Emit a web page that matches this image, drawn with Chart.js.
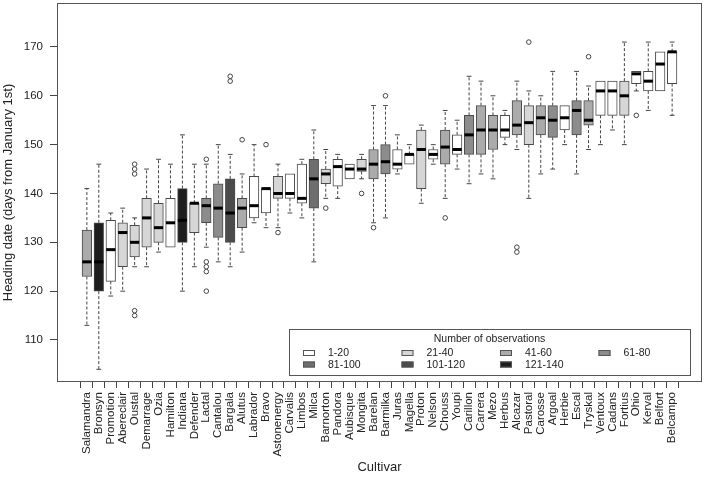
<!DOCTYPE html>
<html>
<head>
<meta charset="utf-8">
<script src="https://cdn.jsdelivr.net/npm/chart.js@4.4.1/dist/chart.umd.min.js"></script>
<style>
  html, body { margin: 0; padding: 0; background: #fff; }
  #wrap { width: 708px; height: 484px; }
</style>
</head>
<body>
<div id="wrap"><canvas id="boxChart"></canvas></div>
<script>
// one entry per cultivar, in plotting order
const cultivars = ['Salamandra', 'Bronsyn', 'Promotion', 'Abereclair', 'Oustal', 'Demarrage', 'Ozia', 'Hamilton',
    'Indiana', 'Defender', 'Lactal', 'Cantalou', 'Bargala', 'Alutus', 'Labrador', 'Bravo', 'Astonenergy',
    'Carvalis', 'Limbos', 'Milca', 'Barnorton', 'Pandora', 'Aubisque', 'Mongita', 'Barelan', 'Barmilka',
    'Juras', 'Magella', 'Proton', 'Nelson', 'Chouss', 'Youpi', 'Carillon', 'Carrera', 'Mezo', 'Herbus',
    'Alcazar', 'Pastoral', 'Carosse', 'Argoal', 'Herbie', 'Escal', 'Tryskal', 'Ventoux', 'Cadans', 'Fortius',
    'Ohio', 'Kerval', 'Belfort', 'Belcampo'];

// number-of-observations class (index into classLabels)
const obsClass = [2, 6, 0, 1, 1, 1, 1, 0, 6, 1, 3, 3, 5, 2, 0, 0, 1, 0, 0, 4, 1, 0, 0, 1, 2, 3,
    0, 0, 1, 0, 2, 0, 3, 2, 2, 0, 2, 1, 2, 3, 0, 3, 2, 0, 0, 1, 0, 0, 0, 0];

const classLabels = ['1-20', '21-40', '41-60', '61-80', '81-100', '101-120', '121-140'];

const mins = [113, 104, 119, 120, 125, 125, 128, 129, 120, 125, 129, 126, 125, 128, 134, 133, 133,
    136, 135, 126, 139, 139, 143, 143, 134, 135, 144, 146, 138, 146, 139, 145, 142, 144, 143, 150,
    149, 139, 144, 145, 150, 144, 149, 150, 153, 150, 161, 157, 161, 156];
const q1s = [123, 120, 122, 125, 127, 129, 130, 129, 130, 132, 134, 131, 130, 133, 135, 136, 139,
    139, 138, 137, 142, 141.5, 143, 144.5, 143, 144, 145, 146, 141, 147, 146, 148, 148, 148, 149, 151.5,
    152, 150, 152, 151.5, 153, 152, 154, 156, 156, 156, 162.5, 161, 161, 162.5];
const medians = [126, 126, 128.5, 132, 130, 135, 133, 134, 134.5, 138, 137.5, 137, 136, 137, 137.5, 141, 140,
    140, 139, 143, 144, 145.5, 145, 145, 146, 146.5, 146, 148, 149, 148, 149.5, 149, 152, 153, 153, 153,
    154, 154.5, 155.5, 155, 155.5, 157, 155, 161, 161, 160, 164.5, 163, 166.5, 169];
const q3s = [132.5, 134, 134.5, 134, 133.5, 139, 138, 139, 141, 138, 139, 142, 143, 139, 143.5, 141, 143.5,
    144, 146, 147, 145, 147, 146, 147, 149, 150, 149, 148, 153, 149, 153, 152, 156, 158, 156, 156,
    159, 158, 158, 158, 158, 159, 159, 163, 163, 163, 165, 165, 169, 169];
const maxs = [141, 146, 136, 137, 135, 145, 147, 146, 152, 146, 146, 150, 148, 144, 150, 141, 146,
    144, 147, 153, 149, 148, 146, 148, 158, 158, 152, 150, 154, 150, 157, 155, 164, 163, 160, 157,
    163, 161, 160, 165, 158, 165, 162, 163, 163, 171, 165, 171, 169, 171];

const outliers = [[], [], [], [], [144, 145, 146, 115, 116], [], [], [], [], [], [147, 126, 125, 124, 120],
    [], [163, 164], [151], [], [150], [132], [], [], [], [137], [], [], [140], [133], [160],
    [], [], [], [], [135], [], [], [], [], [], [128, 129], [171], [], [], [], [], [168], [], [], [],
    [156], [], [], []];

const yTicks = [110, 120, 130, 140, 150, 160, 170];

const classColors = ['#ffffff', '#d6d6d6', '#ababab', '#8c8c8c', '#6e6e6e', '#4b4b4b', '#1e1e1e'];
const lineColor = '#444';
const fontFamily = '"Liberation Sans", Arial, sans-serif';

// build the layers from the arrays above
const boxData = cultivars.map((c, i) => ({ x: i, y: [q1s[i], q3s[i]] }));
const medianData = cultivars.map((c, i) => ({ x: i, y: medians[i] }));

const whiskerData = [];
const capData = [];
cultivars.forEach((c, i) => {
    whiskerData.push({ x: i, y: q3s[i] }, { x: i, y: maxs[i] }, { x: i, y: null });
    whiskerData.push({ x: i, y: q1s[i] }, { x: i, y: mins[i] }, { x: i, y: null });
    if (maxs[i] > q3s[i]) capData.push({ x: i, y: maxs[i] });
    if (mins[i] < q1s[i]) capData.push({ x: i, y: mins[i] });
});

const outlierData = [];
outliers.forEach((list, i) => list.forEach(v => outlierData.push({ x: i, y: v })));

// frame around the plot region plus the "Number of observations" key
const framePlugin = {
    id: 'frame',
    afterDraw(chart) {
        const { ctx, chartArea: a } = chart;
        ctx.save();
        ctx.strokeStyle = '#555';
        ctx.lineWidth = 1;
        ctx.strokeRect(a.left + 0.5, a.top + 0.5, a.right - a.left - 1, a.bottom - a.top - 1);

        const bx = a.right - 413, by = a.bottom - 53, bw = 401, bh = 46;
        ctx.fillStyle = '#fff';
        ctx.fillRect(bx, by, bw, bh);
        ctx.strokeRect(bx + 0.5, by + 0.5, bw, bh);

        ctx.fillStyle = '#222';
        ctx.font = '10.5px ' + fontFamily;
        ctx.textBaseline = 'middle';
        ctx.textAlign = 'center';
        ctx.fillText('Number of observations', bx + bw / 2, by + 10);

        ctx.textAlign = 'left';
        classLabels.forEach((label, k) => {
            const col = k % 4, row = Math.floor(k / 4);
            const sx = bx + 14 + col * 98.5;
            const sy = by + 24 + row * 11.5;
            ctx.fillStyle = classColors[k];
            ctx.fillRect(sx, sy - 3, 12, 6);
            ctx.strokeStyle = '#555';
            ctx.strokeRect(sx + 0.5, sy - 3 + 0.5, 11, 5);
            ctx.fillStyle = '#222';
            ctx.fillText(label, sx + 25, sy + 0.5);
        });
        ctx.restore();
    }
};

Chart.defaults.font.family = fontFamily;
Chart.defaults.color = '#222';

const ctx = document.getElementById('boxChart').getContext('2d');
new Chart(ctx, {
    type: 'bar',
    data: {
        datasets: [
            {
                type: 'line',
                data: whiskerData,
                borderColor: lineColor,
                borderWidth: 1,
                borderDash: [3, 2],
                pointRadius: 0,
                spanGaps: false,
                order: 5
            },
            {
                type: 'bar',
                data: boxData,
                backgroundColor: obsClass.map(k => classColors[k]),
                borderColor: '#4a4a4a',
                borderWidth: 1,
                borderSkipped: false,
                barThickness: 9.6,
                order: 4
            },
            {
                type: 'scatter',
                data: capData,
                pointStyle: 'line',
                pointRadius: 2.4,
                borderColor: lineColor,
                borderWidth: 1,
                order: 3
            },
            {
                type: 'scatter',
                data: medianData,
                pointStyle: 'line',
                pointRadius: 4.6,
                borderColor: '#000',
                borderWidth: 3,
                order: 2
            },
            {
                type: 'scatter',
                data: outlierData,
                pointStyle: 'circle',
                pointRadius: 2.3,
                backgroundColor: '#fff',
                borderColor: lineColor,
                borderWidth: 1,
                order: 1
            }
        ]
    },
    options: {
        responsive: true,
        maintainAspectRatio: false,
        animation: false,
        layout: { autoPadding: false, padding: { top: 3, right: 6, left: 0, bottom: 0 } },
        plugins: {
            legend: { display: false },
            tooltip: { enabled: false }
        },
        scales: {
            x: {
                type: 'linear',
                min: -2.5,
                max: 51.5,
                offset: false,
                grid: { drawOnChartArea: false, drawTicks: true, tickLength: 6, color: lineColor },
                border: { display: false },
                afterBuildTicks: (scale) => {
                    scale.ticks = cultivars.map((c, i) => ({ value: i }));
                },
                afterFit: (scale) => {
                    scale.height = 102;
                    scale.paddingLeft = 0;
                    scale.paddingRight = 0;
                },
                ticks: {
                    autoSkip: false,
                    minRotation: 90,
                    maxRotation: 90,
                    padding: 4,
                    font: { size: 11.5 },
                    callback: (v) => cultivars[v] ?? ''
                },
                title: {
                    display: true,
                    text: 'Cultivar',
                    font: { size: 13 },
                    padding: { top: 4, bottom: 9 }
                }
            },
            y: {
                type: 'linear',
                min: 101.4,
                max: 179,
                grid: { drawOnChartArea: false, drawTicks: true, tickLength: 7, color: lineColor },
                border: { display: false },
                afterBuildTicks: (scale) => {
                    scale.ticks = yTicks.map(v => ({ value: v }));
                },
                afterFit: (scale) => {
                    scale.width = 57;
                    scale.paddingTop = 0;
                    scale.paddingBottom = 0;
                },
                ticks: {
                    padding: 7,
                    font: { size: 11.5 }
                },
                title: {
                    display: true,
                    text: 'Heading date (days from January 1st)',
                    font: { size: 13 },
                    padding: { top: 1, bottom: 0 }
                }
            }
        }
    },
    plugins: [framePlugin]
});
</script>
</body>
</html>
